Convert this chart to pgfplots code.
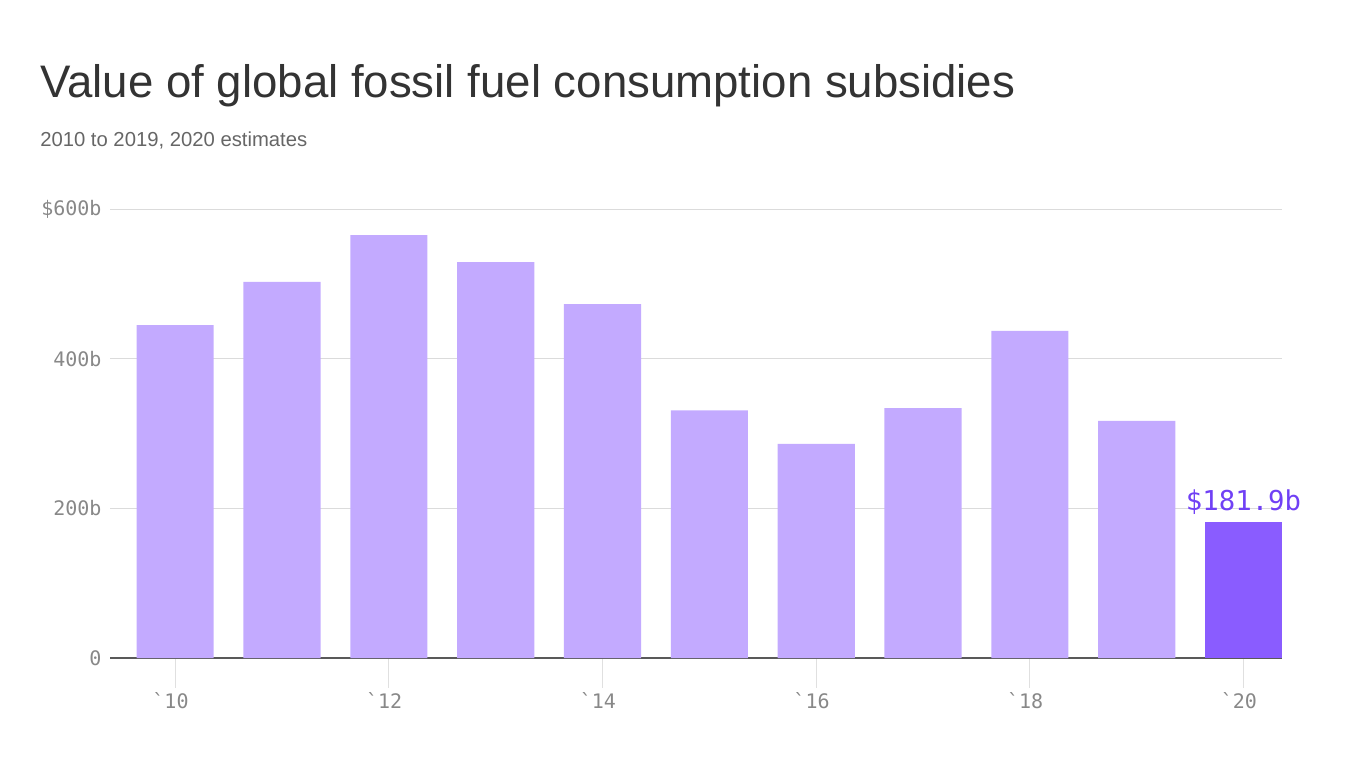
\documentclass[border=0pt]{standalone}
\usepackage{pgfplots}
\pgfplotsset{compat=1.18}
\usepackage{fontspec}
\setmainfont{Liberation Sans}
\setmonofont{DejaVu Sans Mono}
\definecolor{barlight}{HTML}{C3AAFF}
\definecolor{bardark}{HTML}{8A5CFF}
\definecolor{labpurple}{HTML}{7040F5}
\definecolor{titlec}{HTML}{333333}
\definecolor{subc}{HTML}{666666}
\definecolor{tickc}{HTML}{888888}
\begin{document}
\begin{tikzpicture}
\path (0,0) rectangle (1024.5pt,-576pt);
\node[anchor=base west, inner sep=0pt, text=titlec, font=\fontsize{34.2}{40}\selectfont] at (30pt,-72.75pt) {Value of global fossil fuel consumption subsidies};
\node[anchor=base west, inner sep=0pt, text=subc, font=\fontsize{15.2}{18}\selectfont] at (30pt,-109.5pt) {2010 to 2019, 2020 estimates};
\begin{axis}[
  at={(82.5pt,-493.5pt)}, anchor=south west,
  scale only axis, width=879pt, height=336.75pt,
  xmin=2009.39, xmax=2020.36, ymin=0, ymax=600,
  axis x line*=bottom, axis y line*=left,
  x axis line style={draw=black!65, -, line width=0.9pt},
  y axis line style={draw=none},
  xtick={2010,2012,2014,2016,2018,2020},
  xticklabels={`10,`12,`14,`16,`18,`20},
  ytick={0,200,400,600},
  yticklabels={0,200b,400b,\$600b},
  ymajorgrids, grid style={draw=black!14, line width=0.6pt},
  tick align=outside,
  x tick style={draw=black!12, line width=0.8pt},
  major tick length=22.5pt,
  y tick style={draw=none},
  ticklabel style={font=\ttfamily\fontsize{15}{18}\selectfont, text=tickc},
  yticklabel style={xshift=19.5pt},
  xticklabel style={xshift=-3.5pt},
  bar width=0.722,
  clip=false,
]
\addplot[ybar, fill=barlight, draw=none] coordinates {
(2010,445) (2011,502.5) (2012,565) (2013,529) (2014,473)
(2015,331) (2016,286) (2017,334) (2018,437) (2019,317)};
\addplot[ybar, fill=bardark, draw=none,
  nodes near coords={\$181.9b},
  nodes near coords style={font=\ttfamily\fontsize{20.5}{24}\selectfont, text=labpurple, anchor=south, yshift=2pt}]
  coordinates {(2020,181.9)};
\end{axis}
\end{tikzpicture}
\end{document}
